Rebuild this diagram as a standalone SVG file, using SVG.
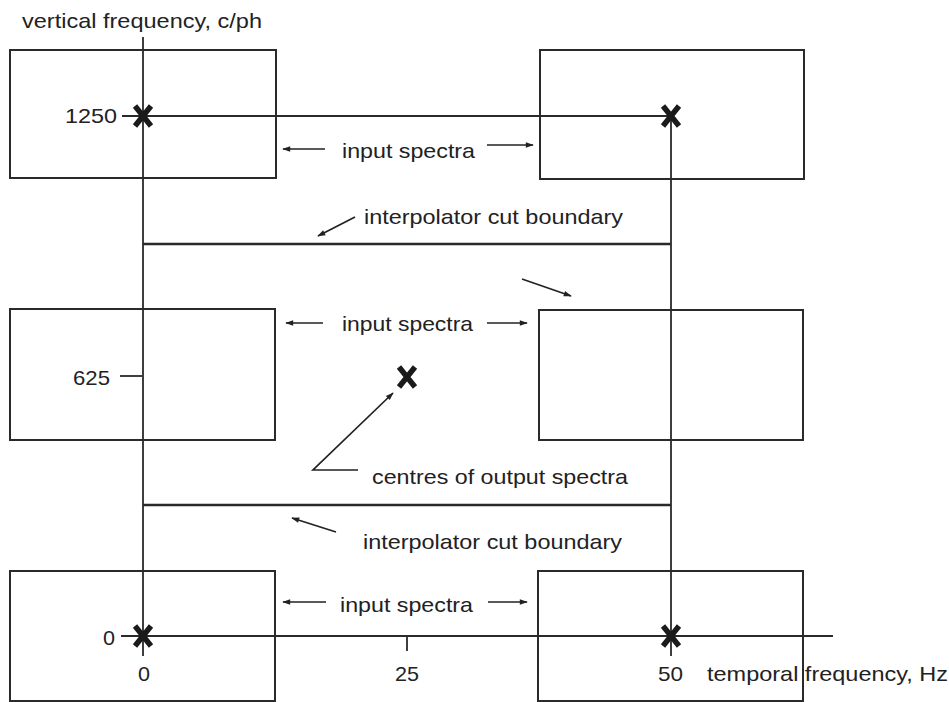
<svg xmlns="http://www.w3.org/2000/svg" width="949" height="702" viewBox="0 0 949 702">
  <defs>
    <marker id="head" viewBox="0 0 10 10" refX="9" refY="5" markerWidth="11" markerHeight="8" markerUnits="userSpaceOnUse" orient="auto">
      <path d="M0,1.5 L10,5 L0,8.5 Z" fill="#222"/>
    </marker>
    <path id="cross" d="M-8,-10 L8,10 M-8,10 L8,-10" />
  </defs>
  <style>
    .box { fill: none; stroke: #2a2a2a; stroke-width: 2; }
    .axis { fill: none; stroke: #2a2a2a; stroke-width: 1.8; }
    .cut { fill: none; stroke: #2a2a2a; stroke-width: 2.6; }
    .ptr { fill: none; stroke: #222; stroke-width: 1.7; marker-end: url(#head); }
    .mark { fill: none; stroke: #1a1a1a; stroke-width: 5.5; stroke-linecap: butt; }
    text { font-family: "Liberation Sans", Arial, sans-serif; font-size: 21px; fill: #222; }
  </style>
  <rect width="949" height="702" fill="#ffffff"/>

  <!-- spectrum boxes -->
  <g id="spectrum-top-left"><rect class="box" x="10" y="50" width="266" height="128"/></g>
  <g id="spectrum-top-right"><rect class="box" x="540" y="50" width="264" height="129"/></g>
  <g id="spectrum-mid-left"><rect class="box" x="10" y="309" width="265" height="131"/></g>
  <g id="spectrum-mid-right"><rect class="box" x="539" y="310" width="264" height="130"/></g>
  <g id="spectrum-bottom-left"><rect class="box" x="10" y="571" width="265" height="130"/></g>
  <g id="spectrum-bottom-right"><rect class="box" x="538" y="571" width="265" height="130"/></g>

  <!-- axes, ticks, cut boundaries and pointers -->
  <g id="connectors">
    <line class="axis" x1="143" y1="37" x2="143" y2="656"/>
    <line class="axis" x1="671" y1="116" x2="671" y2="656"/>
    <line class="axis" x1="122" y1="116" x2="671" y2="116"/>
    <line class="axis" x1="120" y1="376" x2="142" y2="376"/>
    <line class="axis" x1="121" y1="636" x2="833" y2="636"/>
    <line class="axis" x1="407" y1="636" x2="407" y2="651"/>

    <line class="cut" x1="143" y1="244" x2="671" y2="244"/>
    <line class="cut" x1="143" y1="505" x2="671" y2="505"/>

    <line class="ptr" x1="325" y1="149" x2="283" y2="149"/>
    <line class="ptr" x1="487" y1="145" x2="533" y2="145"/>
    <line class="ptr" x1="323" y1="323" x2="286" y2="323"/>
    <line class="ptr" x1="487" y1="323" x2="527" y2="323"/>
    <line class="ptr" x1="326" y1="602" x2="283" y2="602"/>
    <line class="ptr" x1="488" y1="602" x2="527" y2="602"/>

    <line class="ptr" x1="355" y1="217" x2="318" y2="236"/>
    <line class="ptr" x1="522" y1="279" x2="571" y2="296"/>
    <line class="ptr" x1="336" y1="532" x2="292" y2="518"/>
    <polyline class="ptr" points="358,470 313,470 393,393"/>
  </g>

  <!-- spectrum centre marks -->
  <g id="marks">
    <use href="#cross" class="mark" x="143" y="116"/>
    <use href="#cross" class="mark" x="671" y="116"/>
    <use href="#cross" class="mark" x="407" y="377"/>
    <use href="#cross" class="mark" x="143" y="636"/>
    <use href="#cross" class="mark" x="671" y="636"/>
  </g>

  <!-- labels -->
  <g id="labels">
    <text x="22" y="28" textLength="240" lengthAdjust="spacingAndGlyphs">vertical frequency, c/ph</text>
    <text x="65" y="123" textLength="52" lengthAdjust="spacingAndGlyphs">1250</text>
    <text x="73" y="385" textLength="37" lengthAdjust="spacingAndGlyphs">625</text>
    <text x="103" y="645" textLength="12" lengthAdjust="spacingAndGlyphs">0</text>
    <text x="138" y="681" textLength="12" lengthAdjust="spacingAndGlyphs">0</text>
    <text x="395" y="681" textLength="24" lengthAdjust="spacingAndGlyphs">25</text>
    <text x="658" y="681" textLength="25" lengthAdjust="spacingAndGlyphs">50</text>
    <text x="707" y="681" textLength="241" lengthAdjust="spacingAndGlyphs">temporal frequency, Hz</text>

    <text x="342" y="158" textLength="133" lengthAdjust="spacingAndGlyphs">input spectra</text>
    <text x="342" y="331" textLength="131" lengthAdjust="spacingAndGlyphs">input spectra</text>
    <text x="340" y="612" textLength="133" lengthAdjust="spacingAndGlyphs">input spectra</text>

    <text x="364" y="224" textLength="259" lengthAdjust="spacingAndGlyphs">interpolator cut boundary</text>
    <text x="363" y="549" textLength="259" lengthAdjust="spacingAndGlyphs">interpolator cut boundary</text>
    <text x="372" y="484" textLength="256" lengthAdjust="spacingAndGlyphs">centres of output spectra</text>
  </g>
</svg>
